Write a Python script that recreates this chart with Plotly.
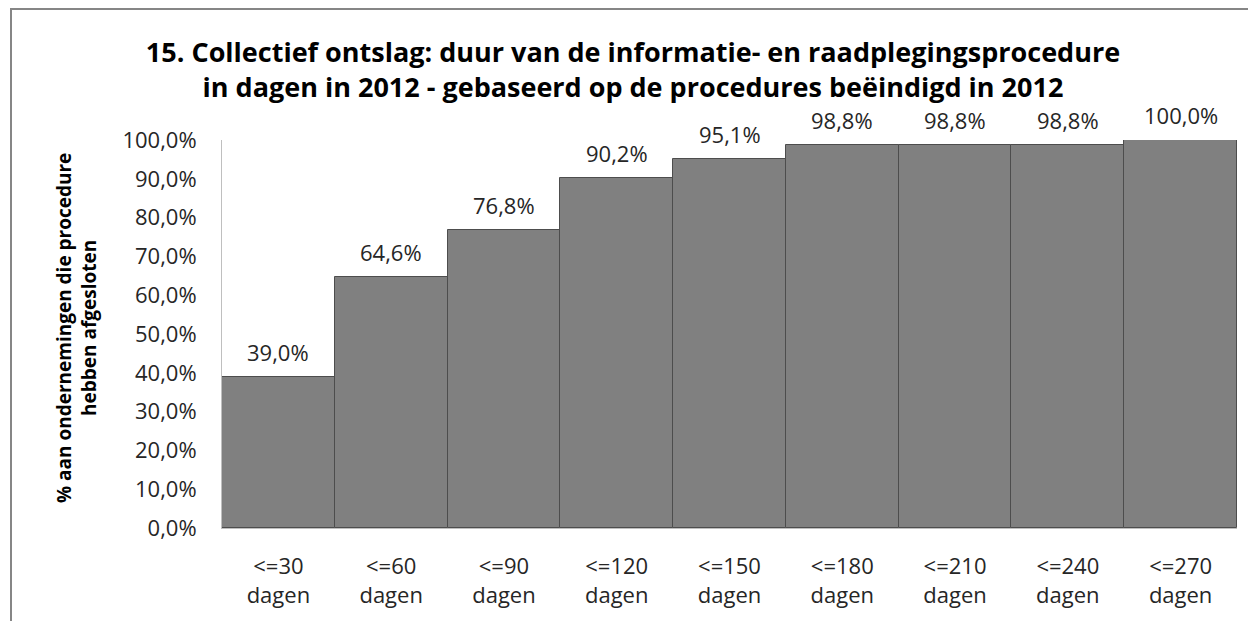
import plotly.graph_objects as go

categories = ["<=30<br>dagen", "<=60<br>dagen", "<=90<br>dagen", "<=120<br>dagen", "<=150<br>dagen",
              "<=180<br>dagen", "<=210<br>dagen", "<=240<br>dagen", "<=270<br>dagen"]
values = [39.0, 64.6, 76.8, 90.2, 95.1, 98.8, 98.8, 98.8, 100.0]
ytick_vals = [0, 10, 20, 30, 40, 50, 60, 70, 80, 90, 100]
ytick_text = [f"{v:.1f}%".replace(".", ",") for v in ytick_vals]
value_labels = [f"{v:.1f}%".replace(".", ",") for v in values]

FONT = "Open Sans"
OFF = 8  # page body margin

W, H = 1256 - OFF, 621 - OFF
L, R, T, B = 222 - OFF, 19, 140 - OFF, 93
pw, ph = W - L - R, H - T - B

def px(x):
    return (x - OFF - L) / pw

def py(y):
    return (H - B - (y - OFF)) / ph

fig = go.Figure(go.Bar(
    x=categories, y=values,
    marker=dict(color="#808080", line=dict(color="#4d4d4d", width=1)),
    hoverinfo="x+y",
))

for cat, val, lab in zip(categories, values, value_labels):
    fig.add_annotation(
        x=cat, y=val, text=lab, showarrow=False,
        xanchor="center", yanchor="middle", yshift=25,
        font=dict(family=FONT, size=22, color="#262626"),
    )

fig.update_layout(
    width=W, height=H,
    margin=dict(l=L, r=R, t=T, b=B),
    paper_bgcolor="white", plot_bgcolor="white",
    bargap=0,
    showlegend=False,
    title=dict(
        text="15. Collectief ontslag: duur van de informatie- en raadplegingsprocedure<br>in dagen in 2012 - gebaseerd op de procedures beëindigd in 2012",
        x=(633 - OFF) / W, xanchor="center", y=1 - (62 - OFF) / H, yanchor="middle", yref="container",
        font=dict(family=FONT, size=27, color="black", weight="bold"),
    ),
    font=dict(family=FONT, color="#262626"),
)
fig.update_xaxes(
    showline=True, linecolor="#bfbfbf", linewidth=1,
    tickfont=dict(family=FONT, size=22, color="#262626"),
    ticks="", ticklabelstandoff=19,
)
fig.update_yaxes(
    range=[0, 100], tickvals=ytick_vals, ticktext=ytick_text,
    showgrid=False, zeroline=False,
    showline=True, linecolor="#bfbfbf", linewidth=1,
    tickfont=dict(family=FONT, size=22, color="#262626"),
    ticks="", ticklabelstandoff=20,
)
fig.add_annotation(
    text="% aan ondernemingen die procedure<br>hebben afgesloten",
    xref="paper", yref="paper", x=px(76), y=py(328),
    xanchor="center", yanchor="middle", textangle=-90, showarrow=False,
    font=dict(family=FONT, size=19, color="black", weight="bold"),
)
fig.add_shape(
    type="rect", xref="paper", yref="paper",
    x0=px(11), x1=px(1300), y0=py(9), y1=py(700),
    line=dict(color="#868686", width=2), fillcolor="rgba(0,0,0,0)", layer="below",
)
fig.write_html("out.html")
